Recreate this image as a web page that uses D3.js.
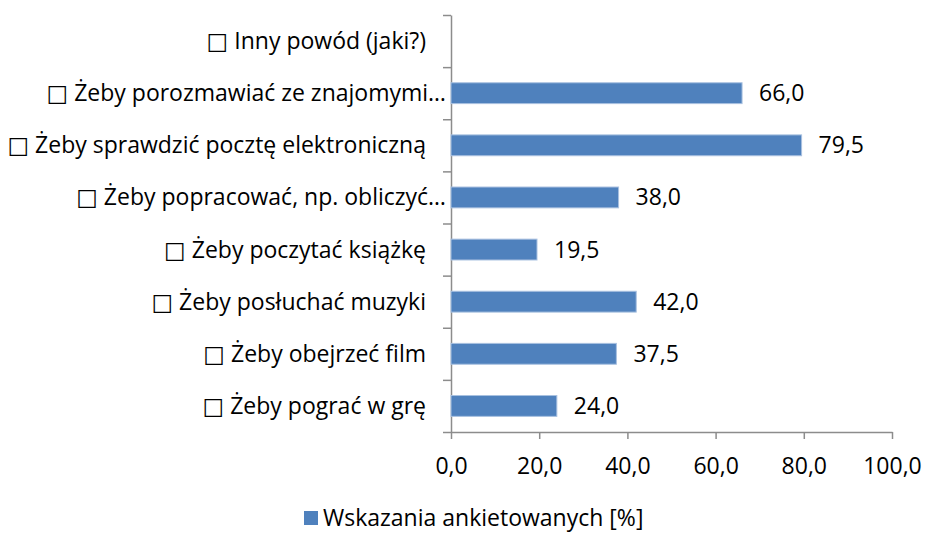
<!DOCTYPE html>
<html>
<head>
<meta charset="utf-8">
<script src="https://cdn.jsdelivr.net/npm/d3@7"></script>
<style>
  body { margin: 0; background: #fff; }
  text { font-family: "Open Sans", "DejaVu Sans", sans-serif; fill: #000; }
</style>
</head>
<body>
<div class="chart"></div>
<script>
// data, top to bottom as shown
const categories = [
    '□ Inny powód (jaki?)',
    '□ Żeby porozmawiać ze znajomymi…',
    '□ Żeby sprawdzić pocztę elektroniczną',
    '□ Żeby popracować, np. obliczyć…',
    '□ Żeby poczytać książkę',
    '□ Żeby posłuchać muzyki',
    '□ Żeby obejrzeć film',
    '□ Żeby pograć w grę'
]
const values = [null, 66.0, 79.5, 38.0, 19.5, 42.0, 37.5, 24.0]
const xTicks = [0, 20, 40, 60, 80, 100]
const seriesName = 'Wskazania ankietowanych [%]'

const width = 925
const height = 533
const plot = {left: 451, right: 892, top: 15, bottom: 432}
const fontSize = '23px'
const fmt = v => v.toFixed(1).replace('.', ',')

const svg = d3.select('.chart').append('svg')
    .attr('width', width)
    .attr('height', height)

const x = d3.scaleLinear()
    .domain([0, 100])
    .range([plot.left, plot.right])

const y = d3.scaleBand()
    .domain(categories)
    .range([plot.top, plot.bottom])
    .paddingInner(0.6)
    .paddingOuter(0.3)

// band boundaries for the category tick marks
const yEdge = d3.scaleLinear()
    .domain([0, categories.length])
    .range([plot.top, plot.bottom])

const xAxis = d3.axisBottom(x)
    .tickValues(xTicks)
    .tickSize(7)
    .tickSizeOuter(0)
    .tickFormat(fmt)

const yAxis = d3.axisLeft(yEdge)
    .tickValues(d3.range(categories.length + 1))
    .tickSize(8)
    .tickSizeOuter(0)
    .tickFormat('')

svg.append('g')
    .attr('class', 'x-axis')
    .attr('transform', `translate(0, ${plot.bottom})`)
    .call(xAxis)

svg.append('g')
    .attr('class', 'y-axis')
    .attr('transform', `translate(${plot.left}, 0)`)
    .call(yAxis)

svg.selectAll('.x-axis path, .x-axis line, .y-axis path, .y-axis line')
    .attr('stroke', '#8c8c8c')
    .attr('stroke-width', 1.5)

svg.selectAll('.x-axis text')
    .attr('y', 34)
    .attr('dy', '0.35em')
    .style('font-size', fontSize)
    .style('font-family', '"Open Sans", sans-serif')
    .attr('fill', '#000')

// category labels
svg.append('g')
    .selectAll('text')
    .data(categories)
    .join('text')
    .attr('x', d => d.endsWith('…') ? plot.left - 5 : plot.left - 25)
    .attr('y', d => y(d) + y.bandwidth() / 2)
    .attr('dy', '0.35em')
    .attr('text-anchor', 'end')
    .style('font-size', fontSize)
    .text(d => d)

const rows = categories.map((c, i) => ({cat: c, val: values[i]}))
    .filter(d => d.val != null)

svg.append('g')
    .selectAll('rect')
    .data(rows)
    .join('rect')
    .attr('x', x(0))
    .attr('y', d => y(d.cat))
    .attr('width', d => x(d.val) - x(0))
    .attr('height', y.bandwidth())
    .attr('fill', '#4f81bd')
    .attr('stroke', '#a9c1e0')
    .attr('stroke-width', 1)

svg.append('g')
    .selectAll('text')
    .data(rows)
    .join('text')
    .attr('x', d => x(d.val) + 17)
    .attr('y', d => y(d.cat) + y.bandwidth() / 2)
    .attr('dy', '0.35em')
    .style('font-size', fontSize)
    .text(d => fmt(d.val))

// legend
const legend = svg.append('g')
    .attr('transform', 'translate(304, 518)')
legend.append('rect')
    .attr('x', 0)
    .attr('y', -7)
    .attr('width', 14)
    .attr('height', 14)
    .attr('fill', '#4f81bd')
legend.append('text')
    .attr('x', 19)
    .attr('y', 0)
    .attr('dy', '0.35em')
    .style('font-size', fontSize)
    .text(seriesName)
</script>
</body>
</html>
